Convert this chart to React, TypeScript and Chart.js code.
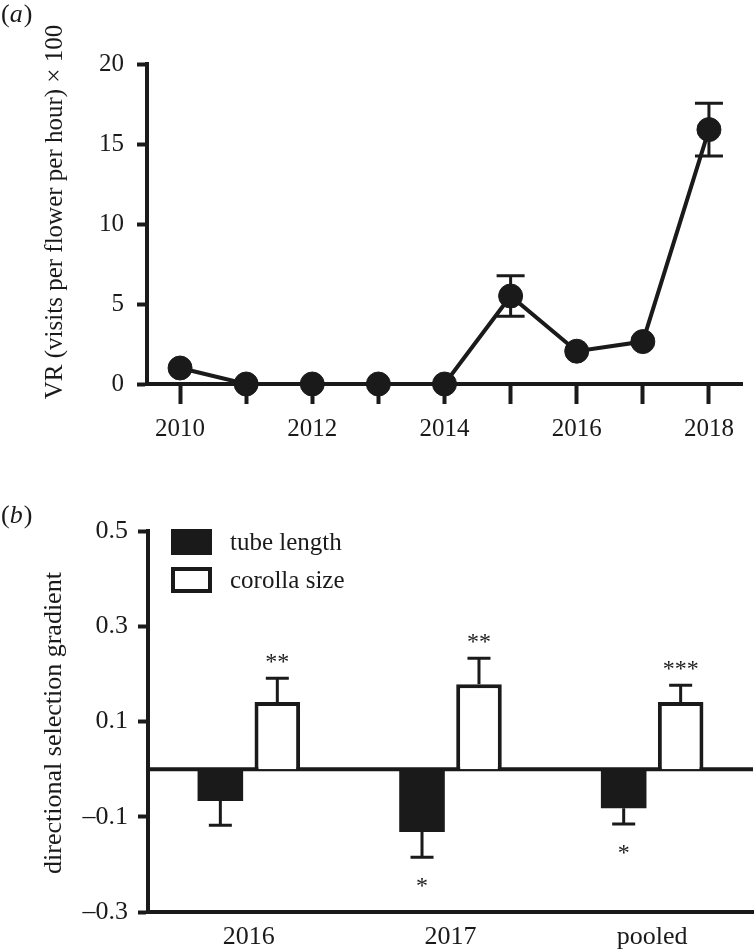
import React, { useEffect, useRef } from 'react';
import { Chart, registerables } from 'chart.js';

Chart.register(...registerables);

const FONT = "'Liberation Serif', 'Times New Roman', serif";
const INK = '#1a1a1a';

// ---- panel (a) data ----
const years = [2010, 2011, 2012, 2013, 2014, 2015, 2016, 2017, 2018];
const visitRate = [1.0, 0, 0, 0, 0, 5.5, 2.05, 2.65, 15.9];
const visitRateErr = [0, 0, 0, 0, 0, 1.27, 0, 0, 1.65];
const yTicksA = [0, 5, 10, 15, 20];
const labelledYearsA = [2010, 2012, 2014, 2016, 2018];
const yTitleA = 'VR (visits per flower per hour) \u00d7 100';

// ---- panel (b) data ----
const groups = ['2016', '2017', 'pooled'];
const tubeLength = [-0.067, -0.132, -0.082];
const tubeLengthErr = [0.051, 0.053, 0.033];
const corollaSize = [0.141, 0.178, 0.141];
const corollaSizeErr = [0.05, 0.055, 0.035];
const tubeSig = ['', '*', '*'];
const corollaSig = ['**', '**', '***'];
const yTicksB = [-0.3, -0.1, 0.1, 0.3, 0.5];
const yTitleB = 'directional selection gradient';

function drawPanelLabel(ctx: CanvasRenderingContext2D, letter: string, x: number, baseline: number, size: number) {
  ctx.save();
  ctx.fillStyle = INK;
  ctx.textBaseline = 'alphabetic';
  ctx.textAlign = 'left';
  ctx.font = `${size}px ${FONT}`;
  ctx.fillText('(', x, baseline);
  let cx = x + ctx.measureText('(').width;
  ctx.font = `italic ${size}px ${FONT}`;
  ctx.fillText(letter, cx, baseline);
  cx += ctx.measureText(letter).width + 1;
  ctx.font = `${size}px ${FONT}`;
  ctx.fillText(')', cx, baseline);
  ctx.restore();
}

function drawYTitle(ctx: CanvasRenderingContext2D, text: string, cx: number, cy: number, size: number) {
  ctx.save();
  ctx.translate(cx, cy);
  ctx.rotate(-Math.PI / 2);
  ctx.fillStyle = INK;
  ctx.font = `${size}px ${FONT}`;
  ctx.textAlign = 'center';
  ctx.textBaseline = 'middle';
  ctx.fillText(text, 0, 0);
  ctx.restore();
}

const panelAPlugin = {
  id: 'panelA',
  beforeDatasetsDraw(chart: any) {
    const { ctx, scales } = chart;
    const xs = scales.x;
    const ys = scales.y;
    ctx.save();
    ctx.strokeStyle = INK;
    ctx.lineWidth = 3;
    years.forEach((yr, i) => {
      const e = visitRateErr[i];
      if (!e) return;
      const px = xs.getPixelForValue(yr);
      const top = ys.getPixelForValue(visitRate[i] + e);
      const bot = ys.getPixelForValue(visitRate[i] - e);
      ctx.beginPath();
      ctx.moveTo(px, top);
      ctx.lineTo(px, bot);
      ctx.moveTo(px - 14, top);
      ctx.lineTo(px + 14, top);
      ctx.moveTo(px - 14, bot);
      ctx.lineTo(px + 14, bot);
      ctx.stroke();
    });
    ctx.restore();
  },
  afterDraw(chart: any) {
    const { ctx } = chart;
    drawPanelLabel(ctx, 'a', 1, 22, 26);
    drawYTitle(ctx, yTitleA, 55, 212, 25);
  },
};

const panelBPlugin = {
  id: 'panelB',
  beforeDatasetsDraw(chart: any) {
    const { ctx, scales, chartArea } = chart;
    const y0 = scales.y.getPixelForValue(0);
    ctx.save();
    ctx.strokeStyle = INK;
    ctx.lineWidth = 4;
    ctx.beginPath();
    ctx.moveTo(chartArea.left, y0);
    ctx.lineTo(chartArea.right, y0);
    ctx.stroke();
    ctx.restore();
  },
  afterDatasetsDraw(chart: any) {
    const { ctx, scales } = chart;
    const ys = scales.y;
    const series = [
      { vals: tubeLength, errs: tubeLengthErr, sig: tubeSig },
      { vals: corollaSize, errs: corollaSizeErr, sig: corollaSig },
    ];
    ctx.save();
    ctx.strokeStyle = INK;
    ctx.fillStyle = INK;
    ctx.lineWidth = 3;
    series.forEach((s, di) => {
      const meta = chart.getDatasetMeta(di);
      meta.data.forEach((bar: any, i: number) => {
        const v = s.vals[i];
        const sign = v >= 0 ? 1 : -1;
        const endV = v + sign * s.errs[i];
        const pv = ys.getPixelForValue(v);
        const pe = ys.getPixelForValue(endV);
        ctx.beginPath();
        ctx.moveTo(bar.x, pv);
        ctx.lineTo(bar.x, pe);
        ctx.moveTo(bar.x - 11.5, pe);
        ctx.lineTo(bar.x + 11.5, pe);
        ctx.stroke();
        if (s.sig[i]) {
          ctx.font = `24px ${FONT}`;
          ctx.textAlign = 'center';
          ctx.textBaseline = 'alphabetic';
          const by = sign > 0 ? pe - 9 : pe + 36;
          ctx.fillText(s.sig[i], bar.x, by);
        }
      });
    });
    ctx.restore();
  },
  afterDraw(chart: any) {
    const { ctx, chartArea } = chart;
    const bx = chartArea.left + 23;
    const by1 = chartArea.top - 2;
    const by2 = by1 + 38;
    ctx.save();
    // legend swatches taken from dataset styles
    const ds0 = chart.data.datasets[0];
    const ds1 = chart.data.datasets[1];
    ctx.fillStyle = ds0.backgroundColor;
    ctx.fillRect(bx, by1, 41, 26);
    ctx.fillStyle = ds1.borderColor;
    ctx.fillRect(bx, by2, 41, 26);
    ctx.fillStyle = ds1.backgroundColor;
    ctx.fillRect(bx + 4, by2 + 4, 33, 18);
    ctx.fillStyle = INK;
    ctx.font = `25px ${FONT}`;
    ctx.textAlign = 'left';
    ctx.textBaseline = 'middle';
    ctx.fillText(ds0.label, bx + 59, by1 + 14);
    ctx.fillText(ds1.label, bx + 59, by2 + 14);
    ctx.restore();
    drawPanelLabel(ctx, 'b', 1, 83, 26);
    drawYTitle(ctx, yTitleB, 54, 283, 26);
  },
};

function fmtB(v: number) {
  const s = Math.abs(v).toFixed(1);
  return v < 0 ? '\u2013' + s : s;
}

export default function App() {
  const refA = useRef<HTMLCanvasElement>(null);
  const refB = useRef<HTMLCanvasElement>(null);

  useEffect(() => {
    const chartA = new Chart(refA.current as HTMLCanvasElement, {
      type: 'line',
      data: {
        datasets: [
          {
            label: 'VR',
            data: years.map((x, i) => ({ x, y: visitRate[i] })),
            borderColor: INK,
            borderWidth: 4,
            pointRadius: 12,
            pointBackgroundColor: INK,
            pointBorderColor: INK,
            pointBorderWidth: 1,
            tension: 0,
            clip: false,
          } as any,
        ],
      },
      options: {
        responsive: false,
        animation: false,
        devicePixelRatio: 1,
        layout: { padding: { top: 64, right: 5, left: 0, bottom: 0 } },
        plugins: { legend: { display: false }, tooltip: { enabled: false } },
        scales: {
          x: {
            type: 'linear',
            min: 2009.5,
            max: 2018.5,
            afterBuildTicks: (s: any) => {
              s.ticks = years.map((v) => ({ value: v }));
            },
            afterFit: (s: any) => {
              s.height = 56;
            },
            ticks: {
              callback: (v: any) => (labelledYearsA.includes(Number(v)) ? String(v) : ''),
              font: { family: FONT, size: 25 },
              color: INK,
              padding: 10,
              maxRotation: 0,
              autoSkip: false,
            },
            grid: { display: true, drawOnChartArea: false, drawTicks: true, tickLength: 20, tickWidth: 4, tickColor: INK },
            border: { display: true, width: 4, color: INK },
          },
          y: {
            min: 0,
            max: 20,
            afterBuildTicks: (s: any) => {
              s.ticks = yTicksA.map((v) => ({ value: v }));
            },
            afterFit: (s: any) => {
              s.width = 147;
            },
            ticks: { font: { family: FONT, size: 25 }, color: INK, padding: 13 },
            grid: { display: true, drawOnChartArea: false, drawTicks: true, tickLength: 10, tickWidth: 4, tickColor: INK },
            border: { display: true, width: 4, color: INK },
          },
        },
      } as any,
      plugins: [panelAPlugin],
    });

    const chartB = new Chart(refB.current as HTMLCanvasElement, {
      type: 'bar',
      data: {
        labels: groups,
        datasets: [
          {
            label: 'tube length',
            data: tubeLength,
            backgroundColor: INK,
            borderWidth: 0,
            categoryPercentage: 0.565,
            barPercentage: 0.8,
          },
          {
            label: 'corolla size',
            data: corollaSize,
            backgroundColor: '#ffffff',
            borderColor: INK,
            borderWidth: 4,
            categoryPercentage: 0.565,
            barPercentage: 0.8,
          },
        ],
      },
      options: {
        responsive: false,
        animation: false,
        devicePixelRatio: 1,
        layout: { padding: { top: 91, right: 2, left: 0, bottom: 0 } },
        plugins: { legend: { display: false }, tooltip: { enabled: false } },
        scales: {
          x: {
            afterFit: (s: any) => {
              s.height = 38;
            },
            ticks: { font: { family: FONT, size: 26 }, color: INK, padding: 2, maxRotation: 0 },
            grid: { display: false },
            border: { display: true, width: 4, color: INK },
          },
          y: {
            min: -0.3,
            max: 0.5,
            afterBuildTicks: (s: any) => {
              s.ticks = yTicksB.map((v) => ({ value: v }));
            },
            afterFit: (s: any) => {
              s.width = 148;
            },
            ticks: { callback: (v: any) => fmtB(Number(v)), font: { family: FONT, size: 26 }, color: INK, padding: 10 },
            grid: { display: true, drawOnChartArea: false, drawTicks: true, tickLength: 10, tickWidth: 4, tickColor: INK },
            border: { display: true, width: 4, color: INK },
          },
        },
      } as any,
      plugins: [panelBPlugin],
    });

    return () => {
      chartA.destroy();
      chartB.destroy();
    };
  }, []);

  return (
    <div style={{ position: 'absolute', left: 0, top: 0, width: 755, height: 950, background: '#ffffff' }}>
      <canvas ref={refA} width={755} height={440} style={{ display: 'block', width: 755, height: 440 }} />
      <canvas ref={refB} width={755} height={510} style={{ display: 'block', width: 755, height: 510 }} />
    </div>
  );
}
